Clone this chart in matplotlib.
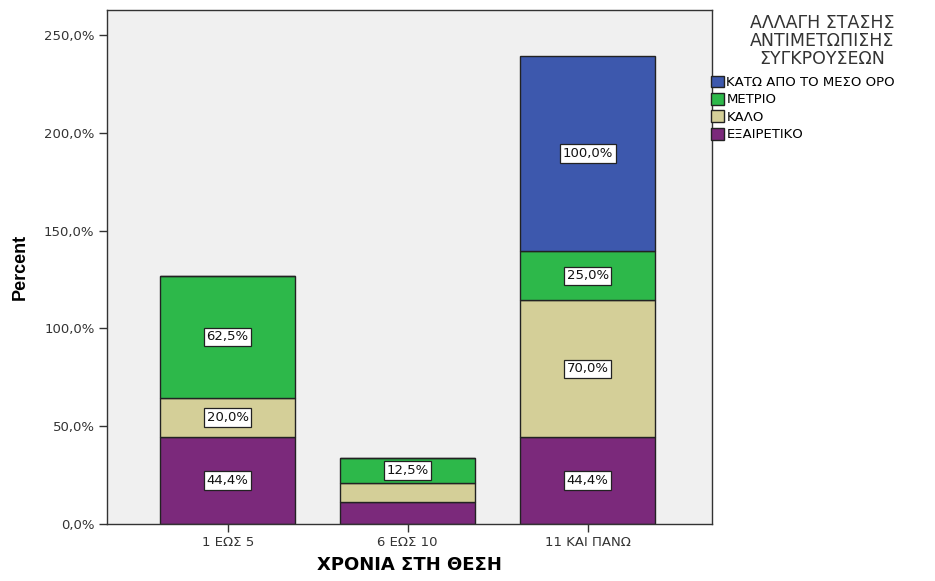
import matplotlib
matplotlib.use("Agg")
import matplotlib.pyplot as plt
from matplotlib.patches import Patch
import numpy as np

categories = ["1 ΕΩΣ 5", "6 ΕΩΣ 10", "11 ΚΑΙ ΠΑΝΩ"]
series_names = ["ΕΞΑΙΡΕΤΙΚΟ", "ΚΑΛΟ", "ΜΕΤΡΙΟ", "ΚΑΤΩ ΑΠΟ ΤΟ ΜΕΣΟ ΟΡΟ"]
exairetiko = [44.4, 11.1, 44.4]
kalo = [20.0, 10.0, 70.0]
metrio = [62.5, 12.5, 25.0]
kato = [0.0, 0.0, 100.0]
show_label = [[True, False, True], [True, False, True], [True, True, True], [False, False, True]]
colors = ["#7B297B", "#D4CF98", "#2DB84A", "#3D58AD"]
yticks = [0, 50, 100, 150, 200, 250]
legend_title = "ΑΛΛΑΓΗ ΣΤΑΣΗΣ\nΑΝΤΙΜΕΤΩΠΙΣΗΣ\nΣΥΓΚΡΟΥΣΕΩΝ"

plt.rcParams['font.family'] = ['DejaVu Sans']

fig = plt.figure(figsize=(9.35, 5.81), dpi=100)
ax = fig.add_axes([107/935, 1 - 524/581, 605/935, 514/581])
ax.set_facecolor("#F0F0F0")

x = np.arange(len(categories))
series = [exairetiko, kalo, metrio, kato]
bottom = np.zeros(len(categories))
for vals, col, shows in zip(series, colors, show_label):
    vals = np.array(vals)
    ax.bar(x, vals, 0.75, bottom=bottom, color=col, edgecolor="#222222", linewidth=1.0, zorder=2)
    for i, v in enumerate(vals):
        if v > 0 and shows[i]:
            ax.text(x[i], bottom[i] + v / 2, f"{v:.1f}%".replace(".", ","),
                    ha="center", va="center", fontsize=9.5, color="#111111", zorder=3,
                    bbox=dict(boxstyle="square,pad=0.2", fc="white", ec="#222222", lw=0.9))
    bottom += vals

ax.set_xlim(-0.67, 2.69)
ax.set_ylim(0, 262.8)
ax.set_yticks(yticks)
ax.set_yticklabels([f"{t:.1f}%".replace(".", ",") for t in yticks], fontsize=9.5, color="#333333")
ax.set_xticks(x)
ax.set_xticklabels(categories, fontsize=9.5, color="#333333")
ax.tick_params(axis="both", length=6, width=1, color="#333333", pad=3)
for s in ax.spines.values():
    s.set_color("#333333")
    s.set_linewidth(1.0)

ax.set_ylabel("Percent", fontsize=13, fontweight="bold",
              family=["Liberation Sans Narrow", "Liberation Sans"], labelpad=11)
ax.set_xlabel("ΧΡΟΝΙΑ ΣΤΗ ΘΕΣΗ", fontsize=13, fontweight="bold", labelpad=5)

fig.text(822/935, 1 - 14/581, legend_title, ha="center", va="top", fontsize=12.5,
         color="#333333", linespacing=1.0)

handles = [Patch(facecolor=colors[i], edgecolor="#222222", label=series_names[i]) for i in [3, 2, 1, 0]]
fig.legend(handles=handles, loc="upper left", bbox_to_anchor=(708/935, 1 - 73/581),
           frameon=False, fontsize=9.5, handlelength=1.0, handleheight=1.0,
           handletextpad=0.2, labelspacing=0.3, borderpad=0.2, borderaxespad=0)

fig.savefig("out.png", dpi=100)
